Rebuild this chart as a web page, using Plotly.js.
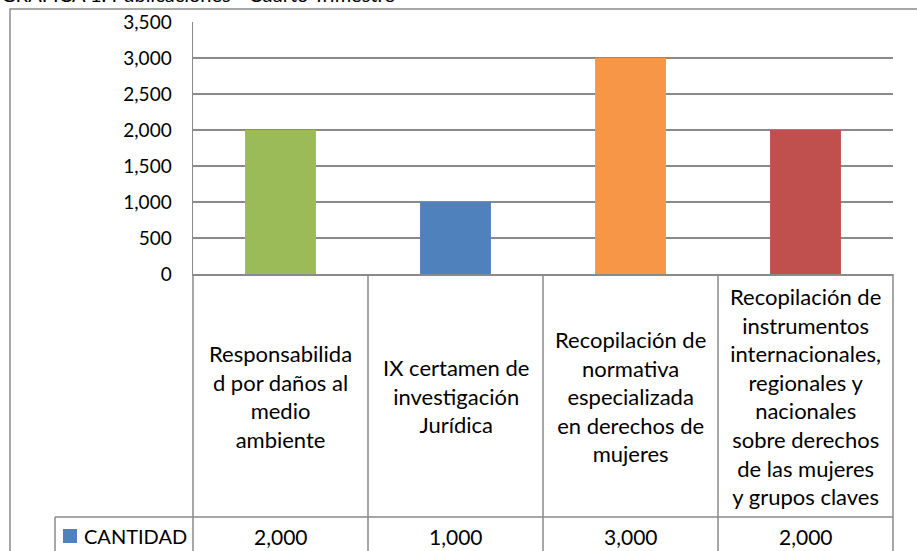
<!DOCTYPE html>
<html>
<head>
<meta charset="utf-8">
<script src="https://cdn.plot.ly/plotly-3.0.1.min.js"></script>
<style>html,body{margin:0;padding:0;background:#fff}#chart{width:917px;height:551px}</style>
</head>
<body>
<div id="chart"></div>
<script>
var chartTitle = "GRÁFICA 1. Publicaciones - Cuarto Trimestre";
var seriesName = "CANTIDAD";
var categories = [
  "Responsabilida<br>d por daños al<br>medio<br>ambiente",
  "IX certamen de<br>investigación<br>Jurídica",
  "Recopilación de<br>normativa<br>especializada<br>en derechos de<br>mujeres",
  "Recopilación de<br>instrumentos<br>internacionales,<br>regionales y<br>nacionales<br>sobre derechos<br>de las mujeres<br>y grupos claves"
];
var values = [2000, 1000, 3000, 2000];
var barColors = ["#9BBB59", "#4F81BD", "#F79646", "#C0504D"];
var legendColor = "#4F81BD";
var tickValues = [0, 500, 1000, 1500, 2000, 2500, 3000, 3500];

var W = 917, H = 551;
var L = 193, R = 893, T = 22, B = 274;
var pw = R - L, ph = B - T;
function px2x(p){ return (p - L) / pw; }
function px2y(p){ return (B - p) / ph; }

var FONT = "Lato, 'Open Sans', sans-serif";
var lineCol = "#8a8a8a";

var xs = categories.map(function(c, i){ return "c" + i; });

var trace = {
  type: "bar",
  x: xs,
  y: values,
  width: 0.405,
  marker: { color: barColors, line: { width: 0 } },
  hoverinfo: "none",
  showlegend: false
};

var shapes = [];
// outer chart border
shapes.push({type:"rect", xref:"paper", yref:"paper", x0:px2x(10), x1:px2x(940), y0:px2y(9), y1:px2y(600), line:{color:lineCol, width:1.5}});
// table vertical lines
var n = categories.length;
for (var i = 0; i <= n; i++) {
  shapes.push({type:"line", xref:"paper", yref:"paper", x0:i/n, x1:i/n, y0:0, y1:px2y(560), line:{color:lineCol, width:1.5}});
}
// table horizontal line between category row and value row
shapes.push({type:"line", xref:"paper", yref:"paper", x0:px2x(55), x1:1, y0:px2y(517), y1:px2y(517), line:{color:lineCol, width:1.5}});
// legend cell left border
shapes.push({type:"line", xref:"paper", yref:"paper", x0:px2x(55), x1:px2x(55), y0:px2y(517), y1:px2y(560), line:{color:lineCol, width:1.5}});
// legend key square
shapes.push({type:"rect", xref:"paper", yref:"paper", x0:px2x(63), x1:px2x(77), y0:px2y(529), y1:px2y(543), fillcolor:legendColor, line:{width:0}});

var annotations = [];
categories.forEach(function(c, i){
  annotations.push({xref:"x", yref:"paper", x:xs[i], y:px2y(396), text:c, showarrow:false, align:"center", yanchor:"middle", xanchor:"center", font:{family:FONT, size:22, color:"#000"}});
  annotations.push({xref:"x", yref:"paper", x:xs[i], y:px2y(536), text:values[i].toLocaleString("en-US"), showarrow:false, yanchor:"middle", xanchor:"center", font:{family:FONT, size:21, color:"#000"}});
});
annotations.push({xref:"paper", yref:"paper", x:px2x(82), y:px2y(536), text:seriesName, showarrow:false, xanchor:"left", yanchor:"middle", font:{family:FONT, size:20, color:"#000"}});
annotations.push({xref:"paper", yref:"paper", x:px2x(-1), y:px2y(8), text:chartTitle, showarrow:false, xanchor:"left", yanchor:"bottom", font:{family:FONT, size:20, color:"#000"}});

var layout = {
  width: W, height: H,
  margin: {l: L, r: W - R, t: T, b: H - B, pad: 0},
  paper_bgcolor: "#fff", plot_bgcolor: "#fff",
  bargap: 0.6,
  xaxis: {
    type: "category", showticklabels: false, ticks: "", showgrid: false,
    showline: true, linecolor: lineCol, linewidth: 1.5, zeroline: false, fixedrange: true
  },
  yaxis: {
    range: [0, 3500], tickvals: tickValues, ticktext: tickValues.map(function(v){return v.toLocaleString("en-US");}),
    showgrid: true, gridcolor: lineCol, gridwidth: 1.5,
    showline: true, linecolor: lineCol, linewidth: 1.5, zeroline: false,
    ticks: "", ticklabelstandoff: 16,
    tickfont: {family: FONT, size: 19, color: "#000"}, fixedrange: true
  },
  shapes: shapes,
  annotations: annotations
};

Plotly.newPlot("chart", [trace], layout, {displayModeBar: false, staticPlot: true});
</script>
</body>
</html>
